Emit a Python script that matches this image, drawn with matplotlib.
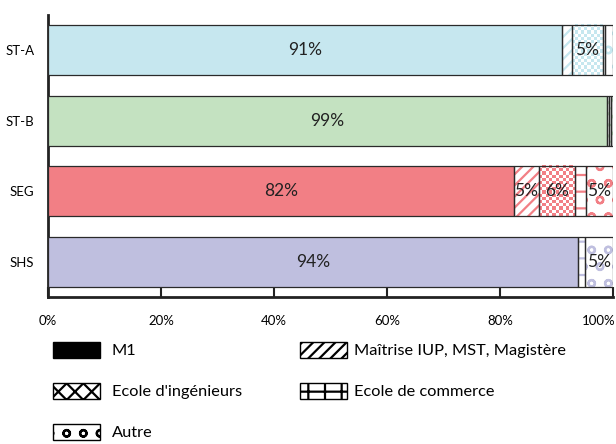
import numpy as np
import matplotlib
matplotlib.use('Agg')
import matplotlib.pyplot as plt
import matplotlib.transforms as mtransforms
from matplotlib.patches import Patch
from matplotlib.colors import ListedColormap

plt.rcParams['font.family'] = ['Lato', 'DejaVu Sans']
plt.rcParams['hatch.linewidth'] = 1.6

categories = ['ST-A', 'ST-B', 'SEG', 'SHS']
colors = ['#c6e7ef', '#c4e2c1', '#f27f85', '#bfbfdf']

m1 = [91.0, 99.0, 82.4, 93.9]
maitrise = [1.8, 0.3, 4.5, 0.0]
ingenieurs = [5.4, 0.0, 6.4, 0.0]
commerce = [0.4, 0.3, 1.9, 1.2]
autre = [1.4, 0.4, 4.8, 4.9]

legend_labels = ['M1', 'Maîtrise IUP, MST, Magistère', "Ecole d'ingénieurs",
                 'Ecole de commerce', 'Autre']

fig = plt.figure(figsize=(6.16, 4.44), dpi=100)
ax = fig.add_axes([0.078, 0.331, 0.917, 0.635])

edge = '#2a2a2a'
lw = 0.9
h = 0.71
y = np.arange(len(categories))

def checker(ax, left, width, yc, color):
    # checkerboard pattern clipped to the segment
    nx = max(1, int(round(width * 5.65 / 3.2)))
    ny = 16
    grid = (np.add.outer(np.arange(ny), np.arange(nx)) % 2)
    cmap = ListedColormap(['white', color])
    ax.imshow(grid, extent=(left, left + width, yc + h / 2, yc - h / 2),
              aspect='auto', cmap=cmap, interpolation='nearest', zorder=2)

series = [maitrise, ingenieurs, commerce, autre]
hatches = ['///', None, '+', 'o']

for i, cat in enumerate(categories):
    c = colors[i]
    ax.barh(i, m1[i], height=h, color=c, edgecolor=edge, linewidth=lw, zorder=3)
    ax.text(m1[i] / 2, i, f"{round(m1[i])}%", ha='center', va='center',
            fontsize=12.5, color='#222222', zorder=5)
    left = m1[i]
    for s, hat in zip(series, hatches):
        w = s[i]
        if w <= 0:
            continue
        if hat is None:
            ax.barh(i, w, left=left, height=h, color='white', linewidth=0, zorder=2)
            checker(ax, left, w, i, c)
        else:
            ax.barh(i, w, left=left, height=h, facecolor='white', edgecolor=c,
                    hatch=hat, linewidth=0, zorder=2)
        ax.barh(i, w, left=left, height=h, fill=False, edgecolor=edge,
                linewidth=lw, zorder=3)
        if w >= 4.5:
            ax.text(left + w / 2, i, f"{int(w + 0.5)}%", ha='center', va='center',
                    fontsize=12.5, color='#222222', zorder=5)
        left += w

ax.set_xlim(0, 100)
ax.set_ylim(3.5, -0.5)
ax.set_yticks(y)
ax.set_yticklabels(categories, fontsize=9.5)
ax.set_xticks(np.arange(0, 101, 20))
ax.set_xticklabels([f"{v}%" for v in range(0, 101, 20)], fontsize=9.5)
ax.tick_params(axis='x', direction='in', length=7, width=1.5, pad=13, color='#222222')
ax.tick_params(axis='y', length=0, pad=10)
last = ax.get_xticklabels()[-1]
last.set_horizontalalignment('right')
last.set_transform(last.get_transform() + mtransforms.ScaledTranslation(3 / 100, 0, fig.dpi_scale_trans))
for sp in ['top', 'right']:
    ax.spines[sp].set_visible(False)
for sp in ['left', 'bottom']:
    ax.spines[sp].set_linewidth(2)
    ax.spines[sp].set_color('#222222')

handles1 = [
    Patch(facecolor='black', edgecolor='black'),
    Patch(facecolor='white', edgecolor='black', hatch='xx'),
    Patch(facecolor='white', edgecolor='black', hatch='o'),
]
handles2 = [
    Patch(facecolor='white', edgecolor='black', hatch='///'),
    Patch(facecolor='white', edgecolor='black', hatch='+'),
]
kw = dict(loc='upper left', frameon=False, fontsize=11.8, handlelength=2.85,
          handleheight=1.1, labelspacing=1.5, handletextpad=0.75,
          borderpad=0, borderaxespad=0)
fig.legend(handles1, [legend_labels[0], legend_labels[2], legend_labels[4]],
           bbox_to_anchor=(0.086, 0.230), **kw)
kw['handletextpad'] = 0.45
fig.legend(handles2, [legend_labels[1], legend_labels[3]],
           bbox_to_anchor=(0.487, 0.230), **kw)

fig.savefig('out.png', dpi=100)
